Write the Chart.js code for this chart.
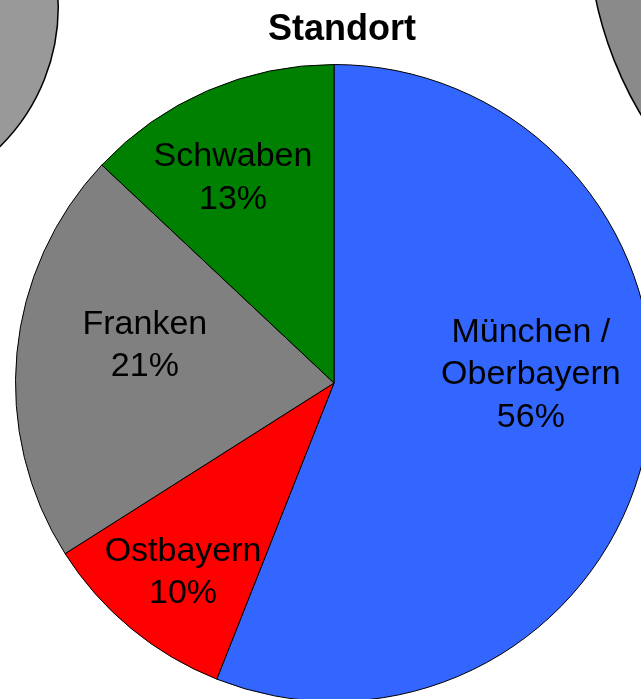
<!DOCTYPE html>
<html lang="de">
<head>
<meta charset="utf-8">
<title>Standort</title>
<script src="https://cdn.jsdelivr.net/npm/chart.js@4"></script>
<style>
    html, body { margin: 0; padding: 0; background: #ffffff; overflow: hidden; width: 641px; height: 699px; }
    .box { position: absolute; }
    #titel {
        position: absolute; left: 242px; width: 200px; top: 10px;
        text-align: center; font: bold 36px "Liberation Sans", Arial, sans-serif; line-height: 36px; color: #000;
    }
</style>
</head>
<body>
<!-- Angeschnittene Nachbar-Diagramme -->
<div class="box" style="left:-335px; top:-190px;"><canvas id="kreisLinks" width="394" height="394" style="width:394px;height:394px"></canvas></div>
<div class="box" style="left:587px; top:-454px;"><canvas id="kreisRechts" width="752" height="752" style="width:752px;height:752px"></canvas></div>
<!-- Hauptdiagramm -->
<div class="box" style="left:0; top:0;"><canvas id="standortChart" width="680" height="720" style="width:680px;height:720px"></canvas></div>
<div id="titel">Standort</div>

<script>
// Daten
const regionen = ["München / Oberbayern", "Ostbayern", "Franken", "Schwaben"];
const anteile = [56, 10, 21, 13]; // Prozent
const farben = ["#3366FF", "#FF0000", "#808080", "#008000"];
const nachbarWerte = [100]; // volle Kreise der Nachbar-Diagramme

// Lage der Beschriftungen (Winkel ab 12 Uhr im Uhrzeigersinn, Anteil am Radius)
const labelLage = [
    { winkel: 86.8, r: 0.619, zeilen: ["München /", "Oberbayern"] },
    { winkel: 219, r: 0.753, zeilen: ["Ostbayern"] },
    { winkel: 282, r: 0.607, zeilen: ["Franken"] },
    { winkel: 334.1, r: 0.726, zeilen: ["Schwaben"] }
];

// Plugin fuer die Beschriftungen in den Segmenten
const segmentLabels = {
    id: "segmentLabels",
    afterDatasetsDraw(chart) {
        const ctx = chart.ctx;
        const meta = chart.getDatasetMeta(0);
        const werte = chart.data.datasets[0].data;
        ctx.save();
        ctx.font = "34px 'Liberation Sans', Arial, sans-serif";
        ctx.fillStyle = "#000";
        ctx.textAlign = "center";
        ctx.textBaseline = "middle";
        meta.data.forEach((arc, i) => {
            const p = arc.getProps(["x", "y", "outerRadius"], true);
            const lage = labelLage[i];
            const w = lage.winkel * Math.PI / 180;
            const cx = p.x + Math.sin(w) * lage.r * p.outerRadius;
            const cy = p.y - Math.cos(w) * lage.r * p.outerRadius + 3; // kleine Korrektur nach unten
            const zeilen = lage.zeilen.concat([werte[i] + "%"]);
            const hoehe = 42.5;
            zeilen.forEach((txt, j) => {
                ctx.fillText(txt, cx, cy + (j - (zeilen.length - 1) / 2) * hoehe);
            });
        });
        ctx.restore();
    }
};

const basisOptionen = {
    responsive: false,
    animation: false,
    plugins: { legend: { display: false }, tooltip: { enabled: false }, title: { display: false } }
};

new Chart(document.getElementById("standortChart"), {
    type: "pie",
    data: {
        labels: regionen,
        datasets: [{
            data: anteile,
            backgroundColor: farben,
            borderColor: "#000000",
            borderWidth: 1
        }]
    },
    options: Object.assign({}, basisOptionen, {
        layout: { padding: { left: 15, right: 27, top: 64, bottom: 18 } }
    }),
    plugins: [segmentLabels]
});

// Graue Kreise der Nachbar-Diagramme am oberen Rand
function nachbarKreis(id, farbe) {
    new Chart(document.getElementById(id), {
        type: "pie",
        data: {
            labels: [""],
            datasets: [{ data: nachbarWerte, backgroundColor: [farbe], borderColor: "#000000", borderWidth: 1.5 }]
        },
        options: basisOptionen
    });
}
nachbarKreis("kreisLinks", "#999999");
nachbarKreis("kreisRechts", "#8a8a8a");
</script>
</body>
</html>
